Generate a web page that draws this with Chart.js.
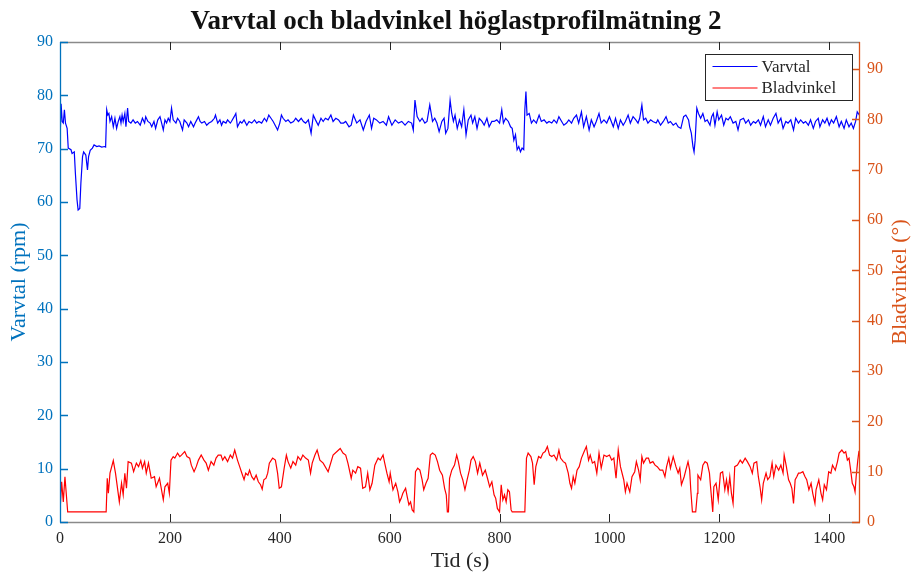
<!DOCTYPE html>
<html><head><meta charset="utf-8">
<script src="https://cdn.jsdelivr.net/npm/chart.js@4.4.0/dist/chart.umd.min.js"></script>
<style>html,body{margin:0;padding:0;background:#fff;}#wrap{width:912px;height:574px;}</style>
</head><body><div id="wrap"><canvas id="c" width="912" height="574"></canvas></div>
<script>
const titleText = 'Varvtal och bladvinkel höglastprofilmätning 2';
const xTicks = [0, 200, 400, 600, 800, 1000, 1200, 1400];
const leftTicks = [0, 10, 20, 30, 40, 50, 60, 70, 80, 90];
const rightTicks = [0, 10, 20, 30, 40, 50, 60, 70, 80, 90];

const varvtalTime = [0,2,4,6,8,10,13,15,20,22,26,28,31,33,36,38,41,43,47,50,52,55,59,62,67,71,76,81,83,85,87,89,91,94,97,100,103,106,109,111,113,115,118,120,123,125,129,133,137,141,146,150,154,156,160,164,167,171,174,178,182,185,188,191,194,197,200,203,206,211,214,218,223,226,231,234,238,243,246,249,252,255,258,263,267,271,276,281,283,287,291,294,297,302,305,310,312,317,320,323,328,331,335,340,344,349,354,358,362,367,372,376,380,384,388,393,396,400,403,406,411,415,420,425,429,434,439,443,447,452,457,461,465,470,475,479,483,488,493,497,502,507,511,516,520,526,530,534,540,546,552,557,563,567,571,576,582,588,594,598,604,610,616,622,628,634,640,643,646,650,655,659,664,668,673,678,682,686,690,695,699,702,706,710,713,716,719,723,727,731,735,739,743,748,751,755,759,763,768,772,777,781,786,790,795,800,804,807,811,816,820,823,826,829,832,835,838,841,844,846,848,850,854,858,862,867,872,876,881,886,890,895,899,904,908,913,917,922,926,931,935,940,944,949,953,958,963,967,972,976,981,985,990,995,1000,1007,1011,1016,1020,1025,1029,1034,1038,1043,1048,1052,1055,1059,1062,1066,1070,1075,1079,1085,1088,1093,1098,1103,1107,1111,1116,1121,1125,1130,1135,1139,1144,1146,1149,1152,1154,1156,1159,1162,1166,1170,1174,1178,1183,1186,1189,1192,1196,1199,1204,1208,1212,1216,1220,1225,1230,1234,1238,1244,1248,1253,1257,1262,1266,1271,1275,1280,1284,1289,1293,1298,1303,1307,1312,1316,1321,1325,1330,1335,1339,1344,1348,1353,1357,1362,1366,1371,1375,1380,1383,1388,1392,1396,1400,1404,1408,1413,1418,1422,1427,1431,1436,1440,1444,1448,1451,1455];
const varvtalRpm = [71.0,78.4,75.1,74.8,77.3,74.8,73.8,70.1,69.8,69.1,69.4,65.4,60.4,58.5,58.8,63.5,68.5,69.4,68.8,66.0,68.5,69.7,70.1,70.7,70.4,70.5,70.3,70.4,70.3,77.3,76.3,76.6,75.1,76.0,74.1,75.7,73.8,75.1,76.0,74.8,76.3,75.1,76.6,74.1,77.6,75.1,74.8,75.4,74.8,75.1,74.4,75.7,74.8,76.0,75.1,74.8,74.1,75.1,73.8,75.4,76.0,74.8,73.5,75.4,74.8,75.7,75.1,77.6,75.4,74.8,75.7,75.1,73.5,75.4,74.8,74.1,75.1,74.1,74.8,75.4,76.0,75.1,74.8,75.1,74.4,74.8,75.1,75.7,76.3,74.8,75.4,74.4,75.1,74.8,75.4,74.8,75.1,76.0,76.6,74.1,75.1,74.8,75.4,74.4,75.1,74.8,75.4,74.8,75.1,74.8,75.7,75.1,76.3,75.7,75.1,74.1,73.5,74.8,76.3,75.7,75.1,75.4,74.8,75.1,75.7,75.1,75.7,75.1,74.8,75.4,72.9,76.3,75.4,74.4,75.7,75.1,75.7,75.4,76.3,75.1,75.7,75.4,74.8,74.8,75.1,74.1,74.4,76.3,74.8,75.4,73.5,75.1,76.3,73.8,75.7,75.4,74.8,75.1,74.4,76.0,74.4,75.4,74.8,75.1,74.4,75.1,74.8,73.5,79.1,76.0,75.1,75.7,74.8,75.1,78.2,75.1,75.7,74.8,73.2,75.1,75.7,72.9,73.8,79.1,76.6,75.1,76.3,73.8,75.4,74.1,77.3,72.6,75.4,76.3,74.8,76.0,73.8,75.7,75.1,74.4,75.7,74.1,75.1,75.1,75.4,74.8,77.3,74.8,75.7,75.1,74.1,73.8,71.6,72.6,69.8,70.4,69.4,70.1,69.8,77.3,80.7,76.3,76.6,74.8,75.4,74.8,76.3,75.1,75.4,74.8,75.1,74.8,75.4,74.8,76.0,75.1,74.4,74.8,75.4,74.8,75.7,76.3,74.8,76.9,74.1,76.0,73.5,75.4,74.1,75.1,76.6,74.8,75.4,74.8,76.0,74.1,75.7,73.8,75.4,74.4,75.1,76.3,74.8,76.0,75.4,74.8,75.7,78.2,75.4,75.7,74.8,75.4,75.1,74.8,75.4,74.4,75.1,76.0,74.8,75.1,74.4,74.8,74.1,73.8,76.0,76.3,75.4,74.1,72.9,70.4,69.4,71.6,77.6,76.6,75.7,76.6,75.1,75.4,74.4,76.0,76.6,74.4,76.9,75.4,76.3,74.4,75.7,75.4,76.0,74.8,75.1,73.5,75.4,75.7,74.8,75.4,74.4,75.1,74.8,75.4,74.4,76.0,74.1,75.4,74.4,75.7,76.6,74.8,75.7,73.8,75.1,74.8,75.4,73.5,75.7,74.8,75.4,74.8,75.1,74.4,75.4,73.8,75.1,75.7,74.1,75.4,74.8,75.7,74.4,75.4,74.8,76.0,74.1,75.1,73.8,75.4,74.1,74.8,73.8,75.1,76.9,76.3];

const bladTime = [0,3,6,9,14,84,86,88,91,97,101,108,112,115,118,121,124,130,134,139,143,147,150,154,157,161,166,172,175,181,188,191,196,199,202,206,209,214,218,221,227,231,236,239,244,248,252,257,262,266,270,275,280,284,288,293,296,300,305,310,314,318,323,327,331,335,338,342,345,349,353,357,361,365,368,371,375,378,381,387,392,396,399,403,408,412,415,420,424,429,433,438,442,447,452,456,459,464,468,473,479,488,497,507,510,515,520,524,530,533,538,542,547,551,556,560,564,568,573,579,583,588,591,595,599,601,606,611,615,618,621,624,629,632,635,638,641,644,647,651,655,659,662,666,670,674,678,683,687,691,696,700,703,705,707,709,713,718,722,725,729,733,737,741,745,748,752,756,760,764,769,774,778,782,786,790,793,796,800,803,806,809,812,815,818,821,823,846,849,852,857,860,863,866,871,875,879,883,887,891,895,899,904,908,911,916,920,925,928,931,934,937,941,945,949,954,958,962,965,969,973,977,981,985,990,995,1000,1004,1008,1012,1016,1020,1026,1029,1032,1037,1041,1046,1049,1053,1056,1059,1062,1067,1071,1074,1079,1083,1087,1092,1097,1101,1104,1108,1111,1116,1121,1125,1128,1131,1136,1139,1143,1146,1148,1151,1157,1160,1161,1166,1170,1174,1178,1182,1184,1188,1190,1194,1198,1202,1206,1210,1213,1216,1219,1222,1225,1228,1233,1238,1242,1247,1251,1256,1260,1263,1268,1271,1274,1277,1280,1285,1288,1292,1296,1299,1303,1308,1312,1316,1318,1322,1326,1329,1332,1335,1338,1341,1344,1347,1352,1356,1359,1363,1367,1370,1374,1376,1381,1385,1388,1391,1395,1399,1403,1406,1411,1415,1418,1423,1427,1430,1433,1436,1439,1442,1445,1447,1449,1452,1454,1456];
const bladDeg = [2.0,8.0,4.0,9.0,2.0,2.0,8.7,5.7,9.7,12.2,9.7,4.0,7.7,5.4,9.7,6.7,12.0,11.7,10.0,11.7,11.0,12.2,10.7,12.0,9.7,11.7,8.7,9.0,7.0,8.7,4.4,7.0,7.7,5.7,12.3,13.0,12.7,13.7,13.0,13.3,14.0,13.0,12.7,11.3,10.0,11.0,12.3,13.3,12.3,11.7,10.3,12.0,11.3,12.7,13.3,13.3,12.3,13.0,12.0,13.3,12.7,14.3,12.3,11.0,9.7,8.4,9.7,9.3,10.3,9.0,8.4,9.3,8.0,7.4,6.5,8.4,8.7,9.7,11.7,12.7,12.3,9.7,6.7,7.0,10.7,13.3,12.0,10.7,12.0,11.3,13.0,12.3,13.3,12.7,12.3,9.7,11.7,13.3,14.3,12.3,11.7,10.0,13.3,14.3,14.6,13.7,13.3,11.7,8.7,10.3,9.7,11.0,10.7,6.7,7.0,9.7,6.4,7.7,11.3,12.7,12.3,13.3,11.7,9.7,8.0,9.7,6.4,7.7,6.0,4.0,4.7,5.7,6.7,5.0,3.4,4.0,2.4,2.0,10.0,10.7,10.3,8.4,6.4,7.7,8.7,13.3,13.7,13.3,12.0,10.3,9.3,6.7,5.4,2.0,2.0,8.7,10.3,11.3,13.3,12.0,9.7,8.4,6.4,8.4,10.3,12.3,13.0,12.0,9.7,11.7,9.3,10.3,8.7,7.0,8.0,5.4,4.7,2.7,2.0,7.4,4.4,5.4,4.0,6.4,6.0,2.4,2.0,2.0,12.7,13.7,13.0,11.7,7.4,11.0,13.0,12.7,13.7,14.0,15.0,13.3,13.0,13.3,12.3,14.3,12.7,12.0,11.7,9.7,7.7,6.7,9.0,7.7,10.3,11.0,12.7,14.0,15.0,12.3,13.3,11.7,12.0,9.7,13.7,10.7,13.3,13.0,13.3,12.3,12.7,8.7,14.3,11.0,8.4,6.0,7.7,6.0,9.0,10.0,12.0,10.3,8.4,13.0,11.7,12.7,12.7,11.7,12.0,11.3,11.0,10.3,10.3,9.0,11.0,12.7,10.7,13.0,11.0,9.7,10.7,7.4,9.0,10.3,12.0,10.3,6.4,2.0,2.0,5.7,9.3,8.4,11.3,12.0,11.7,9.7,7.0,2.0,7.0,7.7,4.4,9.7,10.0,6.4,8.4,6.0,9.0,5.7,3.7,11.0,11.3,12.3,11.7,12.7,12.0,11.0,9.7,11.7,12.0,9.0,7.0,4.4,7.7,9.7,8.4,9.0,11.7,9.0,11.3,10.3,11.3,9.7,13.3,11.0,8.4,7.7,6.7,3.7,8.4,9.0,9.7,9.7,10.0,9.0,8.4,6.4,7.7,5.7,3.7,6.4,8.4,5.7,4.4,7.4,6.4,10.0,9.7,11.3,10.3,12.0,13.7,14.3,13.7,14.0,12.3,12.7,10.3,7.7,7.0,6.0,9.0,12.3,14.0,14.3];

const BLUE = '#0000FF', RED = '#FF0000';
const LEFT_C = '#0072BD', RIGHT_C = '#D95319', AX_C = '#262626';
const SERIF = "'Liberation Serif', 'Times New Roman', serif";
const rightTitle = 'Bladvinkel (°)';

const pts = (xs, ys) => xs.map((x, i) => ({x: x, y: ys[i]}));

const framePlugin = {
  id: 'frame',
  afterDatasetsDraw(chart) {
    const {ctx, chartArea: a, scales} = chart;
    ctx.save();
    // top & bottom
    ctx.strokeStyle = '#8a8a8a';
    ctx.lineWidth = 1.3;
    ctx.beginPath();
    ctx.moveTo(a.left, Math.round(a.top) + 0.5); ctx.lineTo(a.right, Math.round(a.top) + 0.5);
    ctx.moveTo(a.left, Math.round(a.bottom) + 0.5); ctx.lineTo(a.right, Math.round(a.bottom) + 0.5);
    ctx.stroke();
    ctx.lineWidth = 1;
    ctx.strokeStyle = AX_C;
    ctx.beginPath();
    xTicks.forEach(v => {
      const px = Math.round(scales.x.getPixelForValue(v)) + 0.5;
      ctx.moveTo(px, a.bottom); ctx.lineTo(px, a.bottom - 8);
      ctx.moveTo(px, a.top); ctx.lineTo(px, a.top + 8);
    });
    ctx.stroke();
    // left
    ctx.strokeStyle = LEFT_C;
    ctx.lineWidth = 1.3;
    ctx.beginPath();
    ctx.moveTo(Math.round(a.left) + 0.5, a.top); ctx.lineTo(Math.round(a.left) + 0.5, a.bottom + 0.5);
    leftTicks.forEach(v => {
      const py = Math.round(scales.y.getPixelForValue(v)) + 0.5;
      ctx.moveTo(a.left, py); ctx.lineTo(a.left + 8, py);
    });
    ctx.stroke();
    // right
    ctx.strokeStyle = RIGHT_C;
    ctx.beginPath();
    ctx.moveTo(Math.round(a.right) - 0.5, a.top); ctx.lineTo(Math.round(a.right) - 0.5, a.bottom + 0.5);
    rightTicks.forEach(v => {
      const py = Math.round(scales.y1.getPixelForValue(v)) + 0.5;
      ctx.moveTo(a.right, py); ctx.lineTo(a.right - 8, py);
    });
    ctx.stroke();
    // right axis title (reads bottom-to-top)
    ctx.save();
    ctx.translate(900, (a.top + a.bottom) / 2);
    ctx.rotate(-Math.PI / 2);
    ctx.fillStyle = RIGHT_C;
    ctx.font = '22px ' + SERIF;
    ctx.textAlign = 'center';
    ctx.textBaseline = 'middle';
    ctx.fillText(rightTitle, 0, 0);
    ctx.restore();
    // legend box
    const lx = 705.5, ly = 54.5, lw = 147, lh = 46;
    ctx.fillStyle = '#fff';
    ctx.fillRect(lx, ly, lw, lh);
    ctx.strokeStyle = AX_C;
    ctx.lineWidth = 1;
    ctx.strokeRect(lx, ly, lw, lh);
    const legendColors = [BLUE, RED];
    chart.data.datasets.forEach((ds, i) => {
      const yy = ly + 12 + i * 21.5;
      ctx.strokeStyle = legendColors[i];
      ctx.lineWidth = 1.2;
      ctx.beginPath();
      ctx.moveTo(lx + 7, yy); ctx.lineTo(lx + 52, yy);
      ctx.stroke();
      ctx.fillStyle = AX_C;
      ctx.font = '17px ' + SERIF;
      ctx.textBaseline = 'middle';
      ctx.textAlign = 'left';
      ctx.fillText(ds.label, lx + 56, yy + 1);
    });
    ctx.restore();
  }
};

new Chart(document.getElementById('c'), {
  type: 'line',
  data: {
    datasets: [
      {label: 'Varvtal', data: pts(varvtalTime, varvtalRpm), borderColor: BLUE, borderWidth: 1.2, pointRadius: 0, tension: 0, yAxisID: 'y'},
      {label: 'Bladvinkel', data: pts(bladTime, bladDeg), borderColor: RED, borderWidth: 1.2, pointRadius: 0, tension: 0, yAxisID: 'y1'}
    ]
  },
  options: {
    responsive: false,
    animation: false,
    layout: {padding: 0},
    plugins: {
      legend: {display: false},
      tooltip: {enabled: false},
      title: {
        display: true, text: titleText, color: '#111',
        font: {family: SERIF, size: 27, weight: 'bold'},
        padding: {top: 6, bottom: 3.6}
      }
    },
    scales: {
      x: {
        type: 'linear', min: 0, max: 1456, position: 'bottom',
        grid: {display: false, drawTicks: false}, border: {display: false},
        afterBuildTicks: s => { s.ticks = xTicks.map(v => ({value: v})); },
        afterFit: s => { s.height = 52; },
        ticks: {color: AX_C, padding: 7, maxRotation: 0, font: {family: SERIF, size: 16}, callback: v => String(v)},
        title: {display: true, text: 'Tid (s)', color: AX_C, font: {family: SERIF, size: 22}, padding: {top: 0, bottom: 0}}
      },
      y: {
        position: 'left', min: 0, max: 90,
        grid: {display: false, drawTicks: false}, border: {display: false},
        afterBuildTicks: s => { s.ticks = leftTicks.map(v => ({value: v})); },
        afterFit: s => { s.width = 60; },
        ticks: {color: LEFT_C, padding: 7, font: {family: SERIF, size: 16}, callback: v => String(v)},
        title: {display: true, text: 'Varvtal (rpm)', color: LEFT_C, font: {family: SERIF, size: 22}, padding: {top: 6, bottom: 0}}
      },
      y1: {
        position: 'right', min: 0, max: 95.4,
        grid: {display: false, drawTicks: false}, border: {display: false},
        afterBuildTicks: s => { s.ticks = rightTicks.map(v => ({value: v})); },
        afterFit: s => { s.width = 52; },
        ticks: {color: RIGHT_C, padding: 7, font: {family: SERIF, size: 16}, callback: v => String(v)},
        title: {display: false}
      }
    }
  },
  plugins: [framePlugin]
});
</script></body></html>
